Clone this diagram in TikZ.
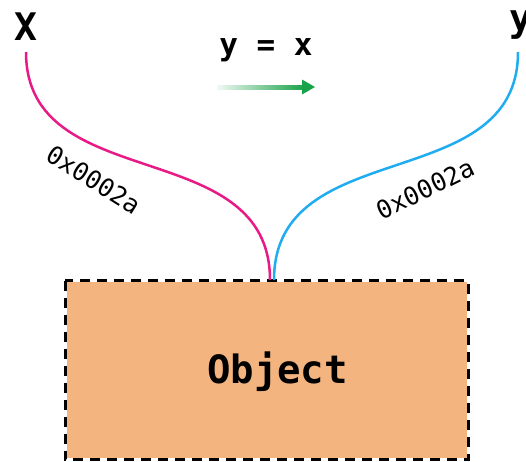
\documentclass[tikz,border=0pt]{standalone}
\usepackage{fontspec}
\newfontfamily\dmono{DejaVu Sans Mono}
\usetikzlibrary{positioning}
\definecolor{pinkc}{RGB}{232,26,134}
\definecolor{bluec}{RGB}{32,172,240}
\definecolor{greenc}{RGB}{24,162,74}
\definecolor{boxfill}{RGB}{244,180,128}
\tikzset{
  lbl/.style={inner sep=0pt, font=\dmono\fontsize{38}{40}\selectfont\bfseries, anchor=base},
  addr/.style={inner sep=0pt, font=\dmono\fontsize{25}{27}\selectfont},
  wire/.style={line width=2.5pt},
}
\begin{document}
\begin{tikzpicture}[x=1pt,y={(0pt,-1pt)}]
\useasboundingbox (0,0) rectangle (526,461);
% object box
\fill[boxfill] (67,282) rectangle (466.7,458.2);
\draw[line width=3pt, dash pattern=on 10pt off 7pt] (65.3,280.7) rectangle (468.3,459.7);
\node[lbl, font=\dmono\fontsize{39}{41}\selectfont\bfseries] (object) at (277.5,383) {Object};
% labels
\node[lbl] (X) at (26,40) {X};
\node[lbl] (Y) at (520.5,31) {y};
\node[lbl, font=\dmono\fontsize{31}{33}\selectfont\bfseries] (eq) at (266,55) {y = x};
% arrow
\shade[left color=greenc!6, right color=greenc] (217,85) rectangle (304,89);
\fill[greenc] (302,79.5) -- (315,87) -- (302,94.5) -- cycle;
% wires
\coordinate (ps) at (26,52);
\coordinate (pe) at (270,280);
\coordinate (bs) at (518,52);
\coordinate (be) at (274,280);
\draw[wire, pinkc] (ps) .. controls (26,197) and (270,133) .. (pe);
\draw[wire, bluec] (bs) .. controls (518,197) and (274,133) .. (be);
\node[addr, rotate=-32] (pl) at (93.5,180) {0x0002a};
\node[addr, rotate=26] (bl) at (425,189) {0x0002a};
\end{tikzpicture}
\end{document}
